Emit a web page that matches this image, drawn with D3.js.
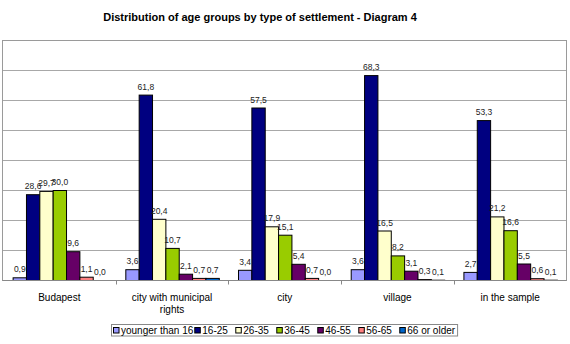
<!DOCTYPE html>
<meta charset="utf-8">
<style>
body { margin: 0; background: #fff; font-family: 'Liberation Sans', Arial, sans-serif; }
.grid line { stroke: #a8a8a8; }
</style>
<body>
<script src="https://cdnjs.cloudflare.com/ajax/libs/d3/7.8.5/d3.min.js"></script>
<script>
var categories = ["Budapest", "city with municipal rights", "city", "village", "in the sample"];
var groups = ["younger than 16", "16-25", "26-35", "36-45", "46-55", "56-65", "66 or older"];
var colors = ["#9999ff", "#000080", "#ffffcc", "#99cc00", "#660066", "#ff8080", "#0066cc"];

// one row per settlement type, one value per age group (%)
var budapest  = [0.9, 28.6, 29.7, 30.0, 9.6, 1.1, 0.0];
var municipal = [3.6, 61.8, 20.4, 10.7, 2.1, 0.7, 0.7];
var city      = [3.4, 57.5, 17.9, 15.1, 5.4, 0.7, 0.0];
var village   = [3.6, 68.3, 16.5, 8.2, 3.1, 0.3, 0.1];
var sample    = [2.7, 53.3, 21.2, 16.6, 5.5, 0.6, 0.1];
var values = [budapest, municipal, city, village, sample];
var yTicks = [0, 10, 20, 30, 40, 50, 60, 70, 80];

var W = 570, H = 344;
var pLeft = 3, pRight = 566.5, pTop = 40, pBottom = 280;

var svg = d3.select("body").append("svg")
    .attr("width", W).attr("height", H);

var x0 = d3.scaleBand().domain(categories).range([pLeft, pRight]).padding(0);
var x1 = d3.scaleBand().domain(groups).range([0, x0.bandwidth()])
    .paddingInner(0).paddingOuter(0.72);
var y = d3.scaleLinear().domain([0, 80]).range([pBottom, pTop]);
var color = d3.scaleOrdinal().domain(groups).range(colors);

svg.append("text")
    .attr("x", 260).attr("y", 21)
    .attr("text-anchor", "middle")
    .attr("font-size", "11px").attr("font-weight", "bold")
    .text("Distribution of age groups by type of settlement - Diagram 4");

// gridlines
svg.append("g").attr("class", "grid")
  .selectAll("line").data(yTicks.slice(1, -1))
  .enter().append("line")
    .attr("x1", pLeft).attr("x2", pRight)
    .attr("y1", function(d) { return Math.round(y(d)) + 0.5; })
    .attr("y2", function(d) { return Math.round(y(d)) + 0.5; });

// plot frame
svg.append("rect")
    .attr("x", pLeft - 0.5).attr("y", pTop + 0.5)
    .attr("width", pRight - pLeft + 0.5).attr("height", pBottom - pTop)
    .attr("fill", "none").attr("stroke", "#9a9a9a");

var fmt = function(v) { return v.toFixed(1).replace(".", ","); };

var cat = svg.selectAll(".cat")
  .data(categories)
  .enter().append("g")
    .attr("class", "cat")
    .attr("transform", function(d) { return "translate(" + x0(d) + ",0)"; });

cat.selectAll("rect")
  .data(function(d, i) { return values[i].map(function(v, j) { return {g: groups[j], v: v}; }); })
  .enter().append("rect")
    .attr("x", function(d) { return x1(d.g) + 0.5; })
    .attr("y", function(d) { return y(d.v) + 0.5; })
    .attr("width", x1.bandwidth())
    .attr("height", function(d) { return pBottom - y(d.v); })
    .attr("fill", function(d) { return color(d.g); })
    .attr("stroke", "#000")
    .attr("stroke-width", 1);

cat.selectAll(".lbl")
  .data(function(d, i) { return values[i].map(function(v, j) { return {g: groups[j], v: v}; }); })
  .enter().append("text")
    .attr("class", "lbl")
    .attr("x", function(d) { return x1(d.g) + x1.bandwidth() / 2 + 0.5; })
    .attr("y", function(d) { return y(d.v) - 5; })
    .attr("text-anchor", "middle")
    .attr("font-size", "8.5px")
    .attr("fill", "#222")
    .text(function(d) { return fmt(d.v); });

// x axis
var xAxis = svg.append("g").attr("transform", "translate(0," + (pBottom + 0.5) + ")");
xAxis.append("line")
    .attr("x1", pLeft - 0.5).attr("x2", pRight)
    .attr("stroke", "#888");
xAxis.selectAll(".tick")
  .data(categories.slice(1))
  .enter().append("line")
    .attr("x1", function(d) { return Math.round(x0(d)) + 0.5; })
    .attr("x2", function(d) { return Math.round(x0(d)) + 0.5; })
    .attr("y1", 0).attr("y2", 4)
    .attr("stroke", "#888");

var catLines = [["Budapest"], ["city with municipal", "rights"], ["city"], ["village"], ["in the sample"]];
xAxis.selectAll(".clabel")
  .data(categories)
  .enter().append("text")
    .attr("class", "clabel")
    .attr("x", function(d) { return x0(d) + x0.bandwidth() / 2; })
    .attr("y", 20)
    .attr("text-anchor", "middle")
    .attr("font-size", "10px")
    .each(function(d, i) {
      d3.select(this).selectAll("tspan").data(catLines[i])
        .enter().append("tspan")
          .attr("x", x0(d) + x0.bandwidth() / 2)
          .attr("dy", function(t, k) { return k ? 12.5 : 0; })
          .text(function(t) { return t; });
    });

// legend
var legend = svg.append("g");
var lx = 113, ly = 324;
var box = legend.append("rect")
    .attr("y", ly + 0.5).attr("height", 11.5)
    .attr("fill", "#fff").attr("stroke", "#888");
var cur = lx;
groups.forEach(function(g) {
  var it = legend.append("g").attr("transform", "translate(" + cur + ",0)");
  it.append("rect")
      .attr("x", 0.5).attr("y", ly + 3.5).attr("width", 5.5).attr("height", 5.5)
      .attr("fill", color(g)).attr("stroke", "#000");
  var t = it.append("text")
      .attr("x", 8).attr("y", ly + 9.5)
      .attr("font-size", "10px")
      .text(g);
  var w = t.node().getComputedTextLength();
  cur += Math.max(w + 9, 41);
});
box.attr("x", lx - 1.5).attr("width", cur - lx + 3);
</script>
</body>
